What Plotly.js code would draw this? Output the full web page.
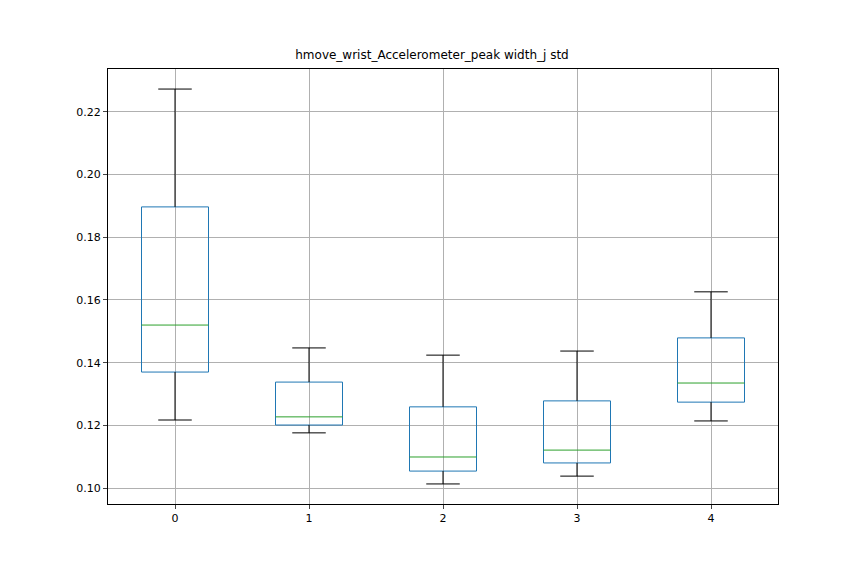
<!DOCTYPE html>
<html>
<head>
<meta charset="utf-8">
<script src="https://cdn.plot.ly/plotly-3.0.1.min.js"></script>
<style>body{margin:0;background:#fff}</style>
</head>
<body>
<div id="chart" style="width:864px;height:576px"></div>
<script>
// Box statistics per group
const groups  = [0, 1, 2, 3, 4];
const lowW    = [0.1217, 0.1176, 0.1013, 0.1038, 0.1214];
const q1      = [0.1370, 0.1201, 0.1054, 0.1080, 0.1274];
const medians = [0.1520, 0.1227, 0.1099, 0.1121, 0.1335];
const q3      = [0.1897, 0.1338, 0.1259, 0.1278, 0.1479];
const highW   = [0.2273, 0.1447, 0.1424, 0.1437, 0.1626];

const halfBox = 0.25, halfCap = 0.125;

const boxTrace = {
  type: "box", x: groups, q1: q1, median: q3, q3: q3,
  lowerfence: q1, upperfence: q3,
  width: 0.5, fillcolor: "rgba(0,0,0,0)",
  line: { color: "#1f77b4", width: 1 }, hoverinfo: "skip", showlegend: false
};

// whiskers + caps in black
const wx = [], wy = [];
groups.forEach((g, i) => {
  wx.push(g, g, null, g, g, null,
          g - halfCap, g + halfCap, null, g - halfCap, g + halfCap, null);
  wy.push(q1[i], lowW[i], null, q3[i], highW[i], null,
          lowW[i], lowW[i], null, highW[i], highW[i], null);
});
const whiskers = { type: "scatter", mode: "lines", x: wx, y: wy,
  line: { color: "black", width: 1 }, hoverinfo: "skip", showlegend: false };

// box outlines drawn with q1 at bottom (box trace median set at q3 to hide it)
const bx = [], by = [];
groups.forEach((g, i) => {
  bx.push(g - halfBox, g + halfBox, g + halfBox, g - halfBox, g - halfBox, null);
  by.push(q1[i], q1[i], q3[i], q3[i], q1[i], null);
});
const boxes = { type: "scatter", mode: "lines", x: bx, y: by,
  line: { color: "#1f77b4", width: 1 }, hoverinfo: "skip", showlegend: false };

const mx = [], my = [];
groups.forEach((g, i) => { mx.push(g - halfBox, g + halfBox, null); my.push(medians[i], medians[i], null); });
const meds = { type: "scatter", mode: "lines", x: mx, y: my,
  line: { color: "#2ca02c", width: 1 }, hoverinfo: "skip", showlegend: false };

const layout = {
  width: 864, height: 576,
  margin: { l: 108, r: 86, t: 69, b: 72 },
  paper_bgcolor: "#fff", plot_bgcolor: "#fff",
  font: { family: "DejaVu Sans", size: 11, color: "black" },
  title: { text: "hmove_wrist_Accelerometer_peak width_j std", font: { size: 12 },
           x: 0.5, xanchor: "center", y: 0.897, yanchor: "bottom" },
  xaxis: { range: [-0.5, 4.5], tickvals: groups, ticktext: groups.map(String),
           showgrid: true, gridcolor: "#b0b0b0", zeroline: false,
           showline: true, mirror: true, linecolor: "black",
           ticks: "outside", ticklen: 4, fixedrange: true },
  yaxis: { range: [0.0949, 0.2337], tickvals: [0.10, 0.12, 0.14, 0.16, 0.18, 0.20, 0.22],
           tickformat: ".2f", showgrid: true, gridcolor: "#b0b0b0", zeroline: false,
           showline: true, mirror: true, linecolor: "black",
           ticks: "outside", ticklen: 4 },
  showlegend: false
};

Plotly.newPlot("chart", [boxes, whiskers, meds], layout, { staticPlot: true });
</script>
</body>
</html>
